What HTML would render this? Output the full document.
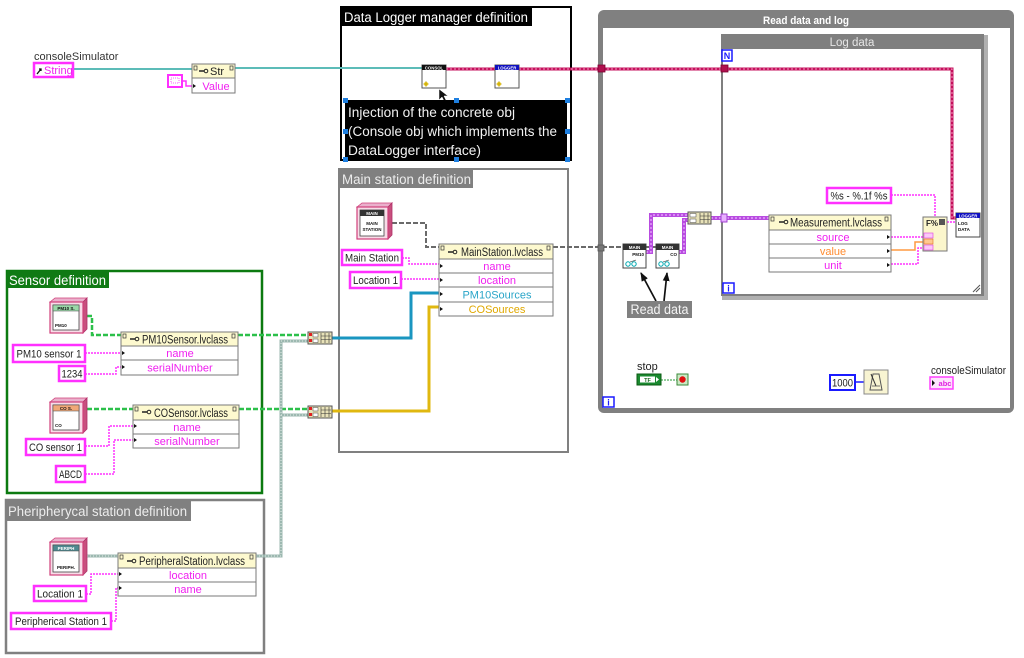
<!DOCTYPE html>
<html><head><meta charset="utf-8"><style>
html,body{margin:0;padding:0;background:#fff;}
svg{display:block;font-family:"Liberation Sans",sans-serif;}
</style></head><body>
<svg width="1024" height="658" viewBox="0 0 1024 658" xmlns="http://www.w3.org/2000/svg">
<rect width="1024" height="658" fill="#fff"/>

<!-- ===== Structures ===== -->
<rect x="598" y="10" width="416" height="403" rx="6" fill="#808080"/>
<rect x="603" y="28" width="407" height="380" fill="#fff"/>
<text x="806" y="24" font-size="11" font-weight="bold" fill="#fff" text-anchor="middle" textLength="86" lengthAdjust="spacingAndGlyphs">Read data and log</text>

<rect x="722" y="35" width="266" height="265" fill="#b0b0b0"/>
<rect x="721" y="34" width="263" height="262" fill="#7f7f7f"/>
<rect x="723" y="49" width="258" height="245" fill="#fff"/>
<text x="852" y="46" font-size="11.5" fill="#e6e6e6" text-anchor="middle">Log data</text>
<path d="M973 292 L980 285 M976 292 L980 288" stroke="#555" stroke-width="1"/>

<rect x="341" y="7" width="230" height="153" fill="#fff" stroke="#000" stroke-width="2"/>
<rect x="341" y="7" width="191" height="19" fill="#000"/>
<text x="344" y="22" font-size="13.5" fill="#fff" textLength="184" lengthAdjust="spacingAndGlyphs">Data Logger manager definition</text>

<rect x="339" y="169" width="229" height="283" fill="none" stroke="#808080" stroke-width="2"/>
<rect x="339" y="169" width="134" height="19" fill="#808080"/>
<text x="342" y="184" font-size="13.5" fill="#ececec" textLength="129" lengthAdjust="spacingAndGlyphs">Main station definition</text>

<rect x="7" y="271" width="255" height="222" fill="none" stroke="#0c7a10" stroke-width="2.5"/>
<rect x="7" y="271" width="102" height="17" fill="#107a14"/>
<text x="9" y="285" font-size="13.5" fill="#fff" textLength="97" lengthAdjust="spacingAndGlyphs">Sensor definition</text>

<rect x="6" y="500" width="258" height="153" fill="none" stroke="#808080" stroke-width="2.5"/>
<rect x="6" y="500" width="185" height="21" fill="#808080"/>
<text x="8" y="516" font-size="13.5" fill="#ececec" textLength="179" lengthAdjust="spacingAndGlyphs">Pheripherycal station definition</text>

<!-- ===== Wires ===== -->
<path d="M73 69 H192 M235 68 H422" stroke="#5cbcb8" stroke-width="2" fill="none"/>
<path d="M182 81 H186 V86 H192" stroke="#ff30ff" stroke-width="1.5" fill="none"/>

<path d="M446 69 H495 M519 69 H952 V218 H956" stroke="#c4105c" stroke-width="3" fill="none"/>
<path d="M446 69 H495 M519 69 H952 V218 H956" stroke="#f39ac0" stroke-width="1" stroke-dasharray="2,2" fill="none"/>
<rect x="598" y="65" width="7" height="7" fill="#b0104e" stroke="#7a0030" stroke-width="0.8"/>
<rect x="721" y="65" width="7" height="7" fill="#b0104e" stroke="#7a0030" stroke-width="0.8"/>

<path d="M392 223 H426 V247 H439 M553 247 H623 M646 247 H656" stroke="#6a6a6a" stroke-width="2" stroke-dasharray="5,2" fill="none"/>
<rect x="598" y="245" width="6" height="6" fill="#777" stroke="#555" stroke-width="0.8"/>

<path d="M87 316 H92 V335 H121 M238 335 H308 M87 409 H133 M239 409 H308" stroke="#2cc04a" stroke-width="2.5" stroke-dasharray="5,2" fill="none"/>

<path d="M87 556 H118 M256 556 H281 V341 H308 M281 415 H308" stroke="#9cb8b0" stroke-width="3" fill="none"/>
<path d="M87 556 H118 M256 556 H281 V341 H308 M281 415 H308" stroke="#e4ece8" stroke-width="1" stroke-dasharray="1,2" fill="none"/>

<path d="M332 338 H411 V293 H439" stroke="#1a96c0" stroke-width="3" fill="none"/>
<path d="M332 411 H429 V307 H439" stroke="#e0b810" stroke-width="3" fill="none"/>

<g stroke="#ff30ff" stroke-width="1.5" fill="none" stroke-dasharray="2,1">
<path d="M402 258 H409 V264 H439"/>
<path d="M401 279 H439"/>
<path d="M85 353 H121"/>
<path d="M85 374 H116 V367 H121"/>
<path d="M85 446 H109 V426 H133"/>
<path d="M85 474 H114 V440 H133"/>
<path d="M86 594 H91 V574 H118"/>
<path d="M111 621 H116 V588 H118"/>
<path d="M891 195 H935 V217"/>
<path d="M891 237 H923"/>
<path d="M891 264 H918 V248 H923"/>
<path d="M947 222 H956"/>
</g>
<path d="M891 250 H915 V242 H923" stroke="#ff9a40" stroke-width="1.5" fill="none"/>

<path d="M646 252 H651 V215 H688 M679 252 H684 V220 H688 M711 218 H769" stroke="#b84ce0" stroke-width="4" fill="none"/>
<path d="M646 252 H651 V215 H688 M679 252 H684 V220 H688 M711 218 H769" stroke="#eab0ff" stroke-width="1.2" stroke-dasharray="2,2" fill="none"/>
<rect x="721" y="214" width="6" height="8" fill="#e8b0ff" stroke="#a040d0" stroke-width="1"/>

<path d="M661 380 H677" stroke="#2a9a3a" stroke-width="1" stroke-dasharray="2,1"/>
<path d="M855 382 H864" stroke="#1a1aff" stroke-width="1.5"/>

<defs><marker id="ah" markerUnits="userSpaceOnUse" markerWidth="9" markerHeight="9" refX="8" refY="4.5" orient="auto"><path d="M0 1 L9 4.5 L0 8 z" fill="#111"/></marker></defs>
<path d="M656 301 L641 273" stroke="#111" stroke-width="1.7" marker-end="url(#ah)"/>
<path d="M664 301 L667 273" stroke="#111" stroke-width="1.7" marker-end="url(#ah)"/>

<!-- ===== Nodes ===== -->
<text x="34" y="60" font-size="11" fill="#333">consoleSimulator</text>
<rect x="34" y="63" width="39" height="14" fill="#fff" stroke="#ff30ff" stroke-width="2.5"/>
<path d="M37 74 L41 69 M39 69 H41 V71" stroke="#111" stroke-width="1.3" fill="none"/>
<text x="44" y="74" font-size="11" fill="#f020f0">String</text>

<rect x="168" y="75" width="14" height="12" fill="#fff" stroke="#ff30ff" stroke-width="2"/>
<rect x="171" y="78" width="8" height="5" fill="none" stroke="#ff30ff" stroke-width="0.8" stroke-dasharray="1,1"/>

<rect x="192" y="64" width="43" height="29" fill="#fff" stroke="#7a7a7a"/>
<rect x="192" y="64" width="43" height="14" fill="#fdf9cf" stroke="#7a7a7a"/>
<rect x="194" y="66" width="3" height="4" fill="none" stroke="#333" stroke-width="0.7"/>
<rect x="230" y="66" width="3" height="4" fill="none" stroke="#333" stroke-width="0.7"/>
<path d="M199 71 h5" stroke="#222" stroke-width="1.5"/><circle cx="206" cy="71" r="1.8" fill="none" stroke="#222"/>
<text x="210" y="75" font-size="11" fill="#222">Str</text>
<polygon points="193,84 196,86 193,88" fill="#111"/>
<text x="216" y="90" font-size="11" fill="#f020f0" text-anchor="middle">Value</text>

<rect x="422" y="65" width="24" height="23" fill="#fff" stroke="#555"/>
<rect x="422" y="65" width="24" height="5" fill="#111"/>
<text x="434" y="69.3" font-size="4.3" fill="#fff" text-anchor="middle" font-weight="bold">CONSOL</text>
<circle cx="426" cy="84" r="2" fill="#f0d020"/><path d="M423 84 h6 M426 81 v6" stroke="#b09000" stroke-width="0.6"/>
<rect x="495" y="65" width="24" height="23" fill="#fff" stroke="#555"/>
<rect x="495" y="65" width="24" height="5" fill="#1010c0"/>
<text x="507" y="69.3" font-size="4.3" fill="#fff" text-anchor="middle" font-weight="bold">LOGGER</text>
<circle cx="499" cy="84" r="2" fill="#f0d020"/><path d="M496 84 h6 M499 81 v6" stroke="#b09000" stroke-width="0.6"/>
<polygon points="439,89 439,100 442,97 444,101 446,100 444,96 448,96" fill="#111" stroke="#fff" stroke-width="0.5"/>

<rect x="345" y="100" width="222" height="60" fill="#000"/>
<text x="348" y="117" font-size="13.5" fill="#f2f2f2" textLength="167" lengthAdjust="spacingAndGlyphs">Injection of the concrete obj</text>
<text x="348" y="136" font-size="13.5" fill="#f2f2f2" textLength="209" lengthAdjust="spacingAndGlyphs">(Console obj which implements the</text>
<text x="348" y="155" font-size="13.5" fill="#f2f2f2" textLength="133" lengthAdjust="spacingAndGlyphs">DataLogger interface)</text>
<g fill="#1e7fe0">
<rect x="343" y="98" width="5" height="5"/><rect x="454" y="98" width="5" height="5"/><rect x="565" y="98" width="5" height="5"/>
<rect x="343" y="129" width="5" height="5"/><rect x="565" y="129" width="5" height="5"/>
<rect x="343" y="157" width="5" height="5"/><rect x="454" y="157" width="5" height="5"/><rect x="565" y="157" width="5" height="5"/>
</g>

<!-- MAIN STATION cube -->
<polygon points="357,207 362,203 392,203 388,207" fill="#eab0cc" stroke="#d0407a" stroke-width="0.8"/>
<polygon points="388,207 392,203 392,235 388,239" fill="#c8507e" stroke="#b03068" stroke-width="0.8"/>
<rect x="357" y="207" width="31" height="32" fill="#f8dce8" stroke="#d0407a" stroke-width="1.2"/>
<rect x="360" y="210" width="24" height="26" fill="#fff" stroke="#444" stroke-width="0.8"/>
<rect x="360" y="210" width="24" height="6" fill="#333"/>
<text x="372" y="215" font-size="4.5" fill="#fff" text-anchor="middle" font-weight="bold">MAIN</text>
<text x="372" y="225" font-size="4.5" fill="#111" text-anchor="middle" font-weight="bold">MAIN</text>
<text x="372" y="231" font-size="4.5" fill="#111" text-anchor="middle" font-weight="bold">STATION</text>

<!-- PM10 cube -->
<polygon points="50,302 55,298 87,298 83,302" fill="#eab0cc" stroke="#d0407a" stroke-width="0.8"/>
<polygon points="83,302 87,298 87,329 83,333" fill="#c8507e" stroke="#b03068" stroke-width="0.8"/>
<rect x="50" y="302" width="33" height="31" fill="#f8dce8" stroke="#d0407a" stroke-width="1.2"/>
<rect x="53" y="305" width="26" height="25" fill="#fff" stroke="#444" stroke-width="0.8"/>
<rect x="53" y="305" width="26" height="6" fill="#9ad8a8" stroke="#444" stroke-width="0.5"/>
<text x="66" y="310" font-size="4.5" fill="#111" text-anchor="middle" font-weight="bold">PM10 S.</text>
<text x="55" y="327" font-size="4.5" fill="#111" font-weight="bold">PM10</text>

<!-- CO cube -->
<polygon points="50,402 55,398 87,398 83,402" fill="#eab0cc" stroke="#d0407a" stroke-width="0.8"/>
<polygon points="83,402 87,398 87,429 83,433" fill="#c8507e" stroke="#b03068" stroke-width="0.8"/>
<rect x="50" y="402" width="33" height="31" fill="#f8dce8" stroke="#d0407a" stroke-width="1.2"/>
<rect x="53" y="405" width="26" height="25" fill="#fff" stroke="#444" stroke-width="0.8"/>
<rect x="53" y="405" width="26" height="6" fill="#f0a878" stroke="#444" stroke-width="0.5"/>
<text x="66" y="410" font-size="4.5" fill="#111" text-anchor="middle" font-weight="bold">CO S.</text>
<text x="55" y="427" font-size="4.5" fill="#111" font-weight="bold">CO</text>

<!-- PERIPH cube -->
<polygon points="50,542 55,538 87,538 83,542" fill="#eab0cc" stroke="#d0407a" stroke-width="0.8"/>
<polygon points="83,542 87,538 87,571 83,575" fill="#c8507e" stroke="#b03068" stroke-width="0.8"/>
<rect x="50" y="542" width="33" height="33" fill="#f8dce8" stroke="#d0407a" stroke-width="1.2"/>
<rect x="53" y="545" width="26" height="27" fill="#fff" stroke="#444" stroke-width="0.8"/>
<rect x="53" y="545" width="26" height="6" fill="#4e8a90" stroke="#444" stroke-width="0.5"/>
<text x="66" y="550" font-size="4.5" fill="#fff" text-anchor="middle" font-weight="bold">PERIPH</text>
<text x="66" y="569" font-size="4.5" fill="#111" text-anchor="middle" font-weight="bold">PERIPH.</text>

<!-- String constants -->
<g fill="#fff" stroke="#ff30ff" stroke-width="2.5">
<rect x="342" y="250" width="60" height="15"/>
<rect x="350" y="272" width="51" height="16"/>
<rect x="13" y="345" width="72" height="17"/>
<rect x="59" y="366" width="26" height="15"/>
<rect x="26" y="439" width="59" height="16"/>
<rect x="56" y="466" width="29" height="16"/>
<rect x="34" y="586" width="52" height="15"/>
<rect x="11" y="613" width="100" height="16"/>
<rect x="827" y="188" width="64" height="15"/>
</g>
<g font-size="11" fill="#222" text-anchor="middle">
<text x="372" y="261.5" textLength="54" lengthAdjust="spacingAndGlyphs">Main Station</text>
<text x="375.5" y="284" textLength="45" lengthAdjust="spacingAndGlyphs">Location 1</text>
<text x="49" y="357.5" textLength="65" lengthAdjust="spacingAndGlyphs">PM10 sensor 1</text>
<text x="72" y="377.5" textLength="21" lengthAdjust="spacingAndGlyphs">1234</text>
<text x="55.5" y="451" textLength="53" lengthAdjust="spacingAndGlyphs">CO sensor 1</text>
<text x="70.5" y="478" textLength="23" lengthAdjust="spacingAndGlyphs">ABCD</text>
<text x="60" y="597.5" textLength="46" lengthAdjust="spacingAndGlyphs">Location 1</text>
<text x="61" y="625" textLength="92" lengthAdjust="spacingAndGlyphs">Peripherical Station 1</text>
<text x="859" y="199.5" textLength="57" lengthAdjust="spacingAndGlyphs">%s - %.1f %s</text>
</g>

<!-- MainStation.lvclass -->
<rect x="439" y="244" width="114" height="72" fill="#fff" stroke="#7a7a7a"/>
<rect x="439" y="244" width="114" height="15" fill="#fdf9cf" stroke="#7a7a7a"/>
<path d="M439 273 H553 M439 287 H553 M439 302 H553" stroke="#7a7a7a"/>
<rect x="441" y="246" width="3" height="4" fill="none" stroke="#333" stroke-width="0.7"/><rect x="547" y="246" width="3" height="4" fill="none" stroke="#333" stroke-width="0.7"/>
<path d="M448 252 h5" stroke="#222" stroke-width="1.5"/><circle cx="455" cy="252" r="1.8" fill="none" stroke="#222"/>
<text x="461" y="256" font-size="11.5" fill="#222" textLength="82" lengthAdjust="spacingAndGlyphs">MainStation.lvclass</text>
<g fill="#111"><polygon points="440,264 443,266 440,268"/><polygon points="440,278 443,280 440,282"/><polygon points="440,292 443,294 440,296"/><polygon points="440,307 443,309 440,311"/></g>
<g font-size="11" text-anchor="middle">
<text x="497" y="270" fill="#f020f0">name</text>
<text x="497" y="284" fill="#f020f0">location</text>
<text x="497" y="298.5" fill="#2aa5c8">PM10Sources</text>
<text x="497" y="313" fill="#e0a800">COSources</text>
</g>

<!-- PM10Sensor.lvclass -->
<rect x="121" y="332" width="117" height="43" fill="#fff" stroke="#7a7a7a"/>
<rect x="121" y="332" width="117" height="14" fill="#fdf9cf" stroke="#7a7a7a"/>
<path d="M121 360 H238" stroke="#7a7a7a"/>
<rect x="123" y="334" width="3" height="4" fill="none" stroke="#333" stroke-width="0.7"/><rect x="232" y="334" width="3" height="4" fill="none" stroke="#333" stroke-width="0.7"/>
<path d="M130 339 h5" stroke="#222" stroke-width="1.5"/><circle cx="137" cy="339" r="1.8" fill="none" stroke="#222"/>
<text x="142" y="343.5" font-size="11.5" fill="#222" textLength="86" lengthAdjust="spacingAndGlyphs">PM10Sensor.lvclass</text>
<g fill="#111"><polygon points="122,351 125,353 122,355"/><polygon points="122,365 125,367 122,369"/></g>
<text x="180" y="357" font-size="11" fill="#f020f0" text-anchor="middle">name</text>
<text x="180" y="371.5" font-size="11" fill="#f020f0" text-anchor="middle">serialNumber</text>

<!-- COSensor.lvclass -->
<rect x="133" y="405" width="106" height="43" fill="#fff" stroke="#7a7a7a"/>
<rect x="133" y="405" width="106" height="15" fill="#fdf9cf" stroke="#7a7a7a"/>
<path d="M133 434 H239" stroke="#7a7a7a"/>
<rect x="135" y="407" width="3" height="4" fill="none" stroke="#333" stroke-width="0.7"/><rect x="233" y="407" width="3" height="4" fill="none" stroke="#333" stroke-width="0.7"/>
<path d="M142 412 h5" stroke="#222" stroke-width="1.5"/><circle cx="149" cy="412" r="1.8" fill="none" stroke="#222"/>
<text x="154" y="417" font-size="11.5" fill="#222" textLength="74" lengthAdjust="spacingAndGlyphs">COSensor.lvclass</text>
<g fill="#111"><polygon points="134,424 137,426 134,428"/><polygon points="134,438 137,440 134,442"/></g>
<text x="187" y="431" font-size="11" fill="#f020f0" text-anchor="middle">name</text>
<text x="187" y="445" font-size="11" fill="#f020f0" text-anchor="middle">serialNumber</text>

<!-- PeripheralStation.lvclass -->
<rect x="118" y="553" width="138" height="43" fill="#fff" stroke="#7a7a7a"/>
<rect x="118" y="553" width="138" height="15" fill="#fdf9cf" stroke="#7a7a7a"/>
<path d="M118 582 H256" stroke="#7a7a7a"/>
<rect x="120" y="555" width="3" height="4" fill="none" stroke="#333" stroke-width="0.7"/><rect x="250" y="555" width="3" height="4" fill="none" stroke="#333" stroke-width="0.7"/>
<path d="M127 561 h5" stroke="#222" stroke-width="1.5"/><circle cx="134" cy="561" r="1.8" fill="none" stroke="#222"/>
<text x="139" y="565" font-size="11.5" fill="#222" textLength="106" lengthAdjust="spacingAndGlyphs">PeripheralStation.lvclass</text>
<g fill="#111"><polygon points="119,572 122,574 119,576"/><polygon points="119,586 122,588 119,590"/></g>
<text x="188" y="579" font-size="11" fill="#f020f0" text-anchor="middle">location</text>
<text x="188" y="593" font-size="11" fill="#f020f0" text-anchor="middle">name</text>

<!-- Measurement.lvclass -->
<rect x="769" y="215" width="122" height="57" fill="#fff" stroke="#7a7a7a"/>
<rect x="769" y="215" width="122" height="15" fill="#fdf9cf" stroke="#7a7a7a"/>
<path d="M769 244 H891 M769 258 H891" stroke="#7a7a7a"/>
<rect x="771" y="217" width="3" height="4" fill="none" stroke="#333" stroke-width="0.7"/><rect x="885" y="217" width="3" height="4" fill="none" stroke="#333" stroke-width="0.7"/>
<path d="M779 222 h5" stroke="#222" stroke-width="1.5"/><circle cx="786" cy="222" r="1.8" fill="none" stroke="#222"/>
<text x="790" y="226.5" font-size="11.5" fill="#222" textLength="92" lengthAdjust="spacingAndGlyphs">Measurement.lvclass</text>
<g fill="#111"><polygon points="887,235 890,237 887,239"/><polygon points="887,249 890,251 887,253"/><polygon points="887,263 890,265 887,267"/></g>
<text x="833" y="241" font-size="11" fill="#f020f0" text-anchor="middle">source</text>
<text x="833" y="255" font-size="11" fill="#ff8c30" text-anchor="middle">value</text>
<text x="833" y="269" font-size="11" fill="#f020f0" text-anchor="middle">unit</text>

<!-- Format Into String -->
<rect x="923" y="217" width="24" height="34" fill="#fbf6cc" stroke="#777"/>
<text x="926" y="226" font-size="8" fill="#222" font-weight="bold">F%</text>
<rect x="939" y="219" width="6" height="6" fill="#555"/>
<rect x="924" y="233" width="9" height="5" fill="#fbc8f8" stroke="#e040e0" stroke-width="0.6"/>
<rect x="924" y="239" width="9" height="5" fill="#ffc890" stroke="#e07020" stroke-width="0.6"/>
<rect x="924" y="245" width="9" height="5" fill="#fbc8f8" stroke="#e040e0" stroke-width="0.6"/>

<!-- LOG DATA -->
<rect x="956" y="213" width="24" height="24" fill="#fff" stroke="#444"/>
<rect x="956" y="213" width="24" height="5" fill="#1010c0"/>
<text x="968" y="217.3" font-size="4.3" fill="#fff" text-anchor="middle" font-weight="bold">LOGGER</text>
<text x="958" y="225" font-size="4.5" fill="#111" font-weight="bold">LOG</text>
<text x="958" y="231" font-size="4.5" fill="#111" font-weight="bold">DATA</text>

<!-- Read nodes -->
<rect x="623" y="244" width="23" height="24" fill="#fff" stroke="#444"/>
<rect x="623" y="244" width="23" height="6" fill="#333"/>
<text x="634.5" y="249" font-size="4.5" fill="#fff" text-anchor="middle" font-weight="bold">MAIN</text>
<text x="644" y="256" font-size="4.5" fill="#111" text-anchor="end" font-weight="bold">PM10</text>
<circle cx="628" cy="264" r="2.2" fill="none" stroke="#00a8b0" stroke-width="1"/><circle cx="634" cy="264" r="2.2" fill="none" stroke="#00a8b0" stroke-width="1"/>
<path d="M630 262 L636 260" stroke="#333" stroke-width="0.6"/>
<rect x="656" y="244" width="23" height="24" fill="#fff" stroke="#444"/>
<rect x="656" y="244" width="23" height="6" fill="#333"/>
<text x="667.5" y="249" font-size="4.5" fill="#fff" text-anchor="middle" font-weight="bold">MAIN</text>
<text x="677" y="256" font-size="4.5" fill="#111" text-anchor="end" font-weight="bold">CO</text>
<circle cx="661" cy="264" r="2.2" fill="none" stroke="#00a8b0" stroke-width="1"/><circle cx="667" cy="264" r="2.2" fill="none" stroke="#00a8b0" stroke-width="1"/>
<path d="M663 262 L669 260" stroke="#333" stroke-width="0.6"/>

<!-- Build array nodes -->
<g>
<rect x="688" y="212" width="23" height="12" fill="#e8e2b8" stroke="#555"/>
<rect x="690" y="213.5" width="6" height="3.5" fill="#fff" stroke="#444" stroke-width="0.5"/><rect x="690" y="219" width="6" height="3.5" fill="#fff" stroke="#444" stroke-width="0.5"/>
<path d="M700 213 V223 M704 213 V223 M708 213 V223 M700 216 H710 M700 219.5 H710" stroke="#333" stroke-width="0.6"/>
</g>
<g>
<rect x="308" y="332" width="24" height="12" fill="#e8e2b8" stroke="#555"/>
<rect x="309" y="333" width="3" height="3" fill="#e02020"/><rect x="309" y="339" width="3" height="3" fill="#e02020"/>
<rect x="313" y="333.5" width="5" height="3.5" fill="#fff" stroke="#444" stroke-width="0.5"/><rect x="313" y="339" width="5" height="3.5" fill="#fff" stroke="#444" stroke-width="0.5"/>
<path d="M321 333 V343 M325 333 V343 M329 333 V343 M321 336 H331 M321 339.5 H331" stroke="#333" stroke-width="0.6"/>
</g>
<g>
<rect x="308" y="406" width="24" height="12" fill="#e8e2b8" stroke="#555"/>
<rect x="309" y="407" width="3" height="3" fill="#e02020"/><rect x="309" y="413" width="3" height="3" fill="#e02020"/>
<rect x="313" y="407.5" width="5" height="3.5" fill="#fff" stroke="#444" stroke-width="0.5"/><rect x="313" y="413" width="5" height="3.5" fill="#fff" stroke="#444" stroke-width="0.5"/>
<path d="M321 407 V417 M325 407 V417 M329 407 V417 M321 410 H331 M321 413.5 H331" stroke="#333" stroke-width="0.6"/>
</g>

<!-- Read data label -->
<rect x="627" y="301" width="65" height="17" fill="#808080"/>
<text x="659.5" y="314" font-size="13.5" fill="#f4f4f4" text-anchor="middle" textLength="58" lengthAdjust="spacingAndGlyphs">Read data</text>

<!-- Loop terminals -->
<rect x="722" y="50" width="10" height="11" fill="#fff" stroke="#1a1aff" stroke-width="1.5"/>
<text x="727" y="59" font-size="9" font-weight="bold" fill="#1a1aff" text-anchor="middle">N</text>
<rect x="723" y="283" width="11" height="10" fill="#fff" stroke="#1a1aff" stroke-width="1.5"/>
<text x="728.5" y="291.5" font-size="9" font-weight="bold" fill="#1a1aff" text-anchor="middle">i</text>
<rect x="603" y="397" width="11" height="10" fill="#fff" stroke="#1a1aff" stroke-width="1.5"/>
<text x="608.5" y="405.5" font-size="9" font-weight="bold" fill="#1a1aff" text-anchor="middle">i</text>

<!-- stop -->
<text x="637" y="370" font-size="11" fill="#222">stop</text>
<rect x="637" y="374" width="24" height="11" fill="#1a8a30" stroke="#0a5a10"/>
<rect x="640" y="376.5" width="15" height="6" fill="#fff"/>
<text x="647.5" y="382" font-size="5.5" font-weight="bold" fill="#1a6a20" text-anchor="middle">TF</text>
<polygon points="656,377 659,379.5 656,382" fill="#fff"/>
<rect x="677" y="374" width="11" height="11" fill="#cbe8c4" stroke="#3a8a3a"/>
<circle cx="682.5" cy="379.5" r="3.2" fill="#e01010"/>

<!-- 1000 & wait -->
<rect x="830" y="375" width="25" height="15" fill="#fff" stroke="#1a1aff" stroke-width="2"/>
<text x="842.5" y="386.5" font-size="11" fill="#222" text-anchor="middle" textLength="21" lengthAdjust="spacingAndGlyphs">1000</text>
<rect x="864" y="370" width="24" height="24" fill="#f8f4d2" stroke="#888"/>
<path d="M870 390 L873 374 H879 L882 390 Z" fill="none" stroke="#555" stroke-width="1"/>
<path d="M876 386 L871 374" stroke="#333" stroke-width="1"/>
<path d="M872 386 H880" stroke="#555" stroke-width="0.8"/>

<!-- consoleSimulator indicator -->
<text x="931" y="374" font-size="11" fill="#222" textLength="75" lengthAdjust="spacingAndGlyphs">consoleSimulator</text>
<rect x="930" y="377" width="23" height="12" fill="#fde4fd" stroke="#ff40ff" stroke-width="1.5"/>
<polygon points="932,380 935,383 932,386" fill="#111"/>
<text x="945" y="386" font-size="7.5" font-weight="bold" fill="#e020e0" text-anchor="middle">abc</text>

</svg>
</body></html>
